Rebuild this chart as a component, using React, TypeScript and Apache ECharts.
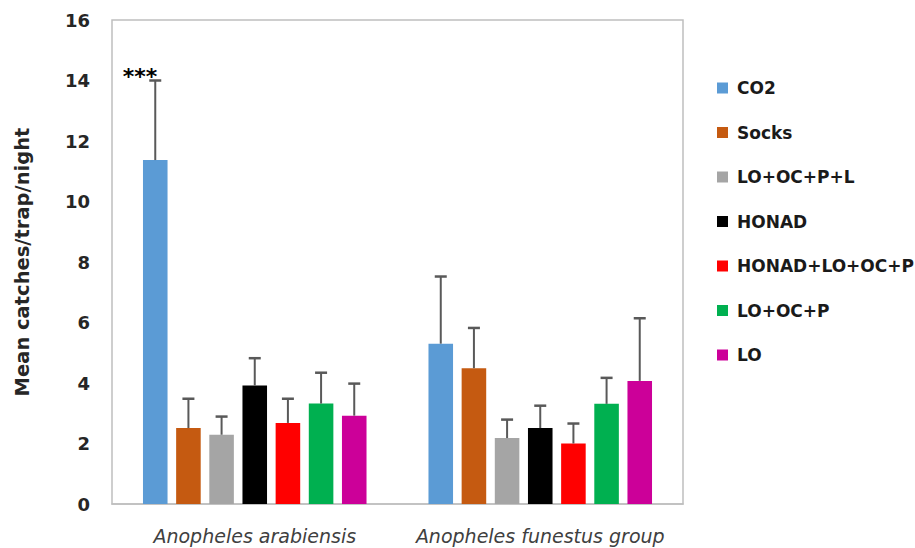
import React, { useEffect, useRef } from "react";
import * as echarts from "echarts";

const categories = ["Anopheles arabiensis", "Anopheles funestus group"];
const seriesNames = ["CO2", "Socks", "LO+OC+P+L", "HONAD", "HONAD+LO+OC+P", "LO+OC+P", "LO"];
const seriesColors = ["#5b9bd5", "#c55a11", "#a5a5a5", "#000000", "#ff0000", "#00b050", "#cc0099"];

// mean catches per trap per night [arabiensis, funestus]
const co2Mean = [11.37, 5.3];
const socksMean = [2.51, 4.49];
const lo_oc_p_lMean = [2.29, 2.18];
const honadMean = [3.92, 2.51];
const honad_lo_oc_pMean = [2.68, 2.0];
const lo_oc_pMean = [3.32, 3.31];
const loMean = [2.92, 4.07];

// upper error (SE) [arabiensis, funestus]
const co2Err = [2.63, 2.22];
const socksErr = [0.97, 1.33];
const lo_oc_p_lErr = [0.6, 0.61];
const honadErr = [0.9, 0.74];
const honad_lo_oc_pErr = [0.8, 0.66];
const lo_oc_pErr = [1.02, 0.86];
const loErr = [1.06, 2.07];

// significance labels [arabiensis, funestus]
const co2Sig = ["***", ""];

const yTicks = { min: 0, max: 16, interval: 2 };

const means = [co2Mean, socksMean, lo_oc_p_lMean, honadMean, honad_lo_oc_pMean, lo_oc_pMean, loMean];
const errs = [co2Err, socksErr, lo_oc_p_lErr, honadErr, honad_lo_oc_pErr, lo_oc_pErr, loErr];
const sigs = [co2Sig, ["", ""], ["", ""], ["", ""], ["", ""], ["", ""], ["", ""]];

const CAT_GAP = 0.217;
const BAR_GAP = 0.35;
const FONT = "DejaVu Sans";

export default function App() {
  const ref = useRef<HTMLDivElement>(null);
  useEffect(() => {
    document.body.style.margin = "0";
    if (!ref.current) return;
    const chart = echarts.init(ref.current, undefined, { renderer: "svg" });

    const rows: number[][] = [];
    const rowSig: string[] = [];
    means.forEach((m, s) => {
      m.forEach((v, c) => {
        rows.push([c, s, v, errs[s][c]]);
        rowSig.push(sigs[s][c]);
      });
    });
    const N = seriesNames.length;

    const barSeries = seriesNames.map((name, i) => ({
      name,
      type: "bar",
      data: means[i],
      itemStyle: { color: seriesColors[i] },
      barGap: `${BAR_GAP * 100}%`,
      barCategoryGap: `${CAT_GAP * 100}%`,
      z: 2,
    }));

    const errSeries = {
      type: "custom",
      name: "errors",
      z: 5,
      encode: { x: 0, y: 2 },
      data: rows,
      renderItem: (params: any, api: any) => {
        const cat = api.value(0);
        const s = api.value(1);
        const mean = api.value(2);
        const err = api.value(3);
        const band = api.size([1, 0])[0];
        const remained = band * (1 - CAT_GAP);
        const w = remained / (N + (N - 1) * BAR_GAP);
        const xOff = -remained / 2 + s * w * (1 + BAR_GAP) + w / 2;
        const base = api.coord([cat, mean]);
        const top = api.coord([cat, mean + err]);
        const x = base[0] + xOff;
        const lineStyle = { stroke: "#595959", lineWidth: 2 };
        const children: any[] = [
          { type: "line", shape: { x1: x, y1: base[1], x2: x, y2: top[1] }, style: lineStyle },
          { type: "line", shape: { x1: x - 6, y1: top[1], x2: x + 6, y2: top[1] }, style: { stroke: "#595959", lineWidth: 2.5 } },
        ];
        const sig = rowSig[params.dataIndex];
        if (sig) {
          children.push({
            type: "text",
            x: x + 2,
            y: top[1] - 4,
            style: {
              text: sig,
              fontSize: 22,
              fontWeight: "bold",
              fontFamily: FONT,
              fill: "#000",
              align: "right",
              verticalAlign: "middle",
            },
          });
        }
        return { type: "group", children };
      },
    };

    chart.setOption({
      animation: false,
      backgroundColor: "#ffffff",
      grid: {
        left: 112,
        right: 232,
        top: 20,
        bottom: 44,
        show: true,
        borderColor: "#bfbfbf",
        borderWidth: 1.5,
        backgroundColor: "transparent",
      },
      legend: {
        data: seriesNames,
        orient: "vertical",
        left: 712,
        top: 73,
        itemWidth: 11,
        itemHeight: 11,
        itemGap: 24.5,
        icon: "rect",
        textStyle: {
          fontFamily: FONT,
          fontSize: 17,
          fontWeight: "bold",
          color: "#1a1a1a",
          lineHeight: 20,
          padding: [0, 0, 0, 4],
        },
      },
      xAxis: {
        type: "category",
        data: categories,
        axisLine: { show: true, lineStyle: { color: "#bfbfbf", width: 1.5 } },
        axisTick: { show: false },
        axisLabel: {
          interval: 0,
          hideOverlap: false,
          fontFamily: FONT,
          fontStyle: "italic",
          fontSize: 19,
          color: "#404040",
          margin: 22,
        },
      },
      yAxis: {
        type: "value",
        min: yTicks.min,
        max: yTicks.max,
        interval: yTicks.interval,
        name: "Mean catches/trap/night",
        nameLocation: "middle",
        nameGap: 80,
        nameTextStyle: {
          fontFamily: FONT,
          fontSize: 19.5,
          fontWeight: "bold",
          color: "#262626",
        },
        axisLine: { show: false },
        axisTick: { show: false },
        splitLine: { show: false },
        axisLabel: {
          fontFamily: FONT,
          fontSize: 18,
          fontWeight: "bold",
          color: "#262626",
          margin: 22,
        },
      },
      series: [...barSeries, errSeries],
    });

    return () => chart.dispose();
  }, []);

  return (
    <div
      ref={ref}
      style={{ position: "absolute", left: 0, top: 0, width: 915, height: 548 }}
    />
  );
}
